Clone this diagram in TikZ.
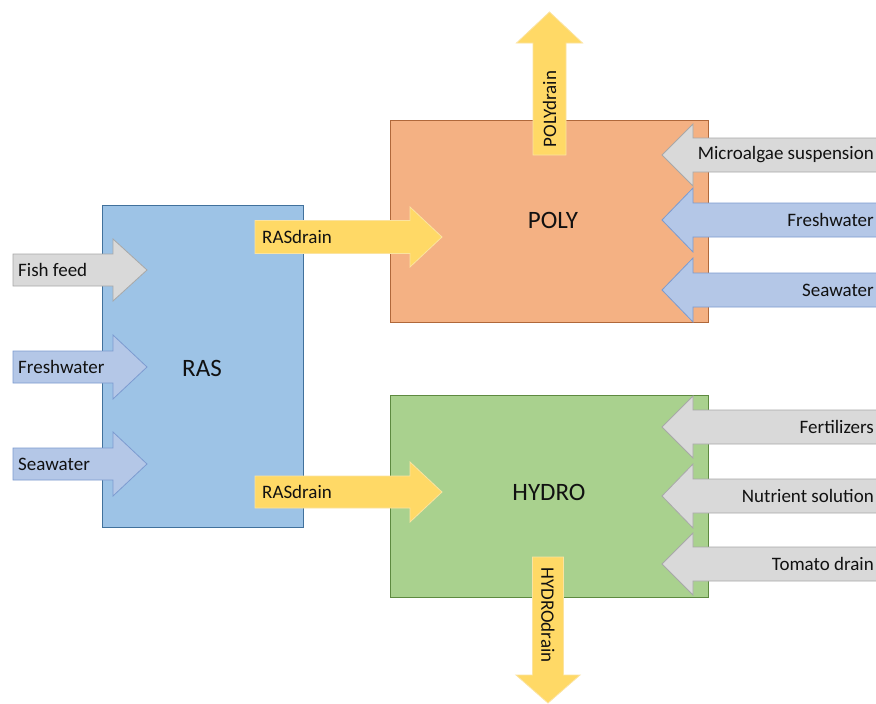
\documentclass[tikz,border=0pt]{standalone}
\usepackage{fontspec}
\setmainfont{Carlito}
\begin{document}
\begin{tikzpicture}[x=1pt,y=-1pt,
  unitbox/.style={line width=0.9pt},
  rasbox/.style={unitbox,fill=rasfill,draw=rasline},
  polybox/.style={unitbox,fill=polyfill,draw=polyline},
  hydrobox/.style={unitbox,fill=hydrofill,draw=hydroline},
  flowarrow/.style={line width=0.8pt,line join=miter},
  drainarrow/.style={flowarrow,fill=drainfill,draw=drainline},
  greyarrow/.style={flowarrow,fill=greyfill,draw=greyline},
  waterarrow/.style={flowarrow,fill=waterfill,draw=waterline},
  lbl/.style={font=\fontsize{19}{21}\selectfont,text=txt,inner sep=0pt},
  unitlbl/.style={font=\fontsize{25}{27}\selectfont,text=txt,inner sep=0pt}]
\definecolor{rasfill}{HTML}{9DC3E6}
\definecolor{rasline}{HTML}{41719C}
\definecolor{polyfill}{HTML}{F4B183}
\definecolor{polyline}{HTML}{B0683A}
\definecolor{hydrofill}{HTML}{A9D18E}
\definecolor{hydroline}{HTML}{5E8A40}
\definecolor{drainfill}{HTML}{FFD966}
\definecolor{drainline}{HTML}{FBE3A0}
\definecolor{greyfill}{HTML}{D9D9D9}
\definecolor{greyline}{HTML}{A8A8A8}
\definecolor{waterfill}{HTML}{B4C7E7}
\definecolor{waterline}{HTML}{7C9BD0}
\definecolor{txt}{HTML}{111111}
\useasboundingbox (0,0) rectangle (876,704);
\clip (0,0) rectangle (876,704);
\fill[white] (0,0) rectangle (876,704);

% horizontal block arrow: tail x, head base x, tip x, centre y, shaft half, head half
\newcommand\blockarrowh[7]{%
  \draw[#1] ({#2},{#5-#6}) -- ({#3},{#5-#6}) -- ({#3},{#5-#7}) -- ({#4},{#5})
    -- ({#3},{#5+#7}) -- ({#3},{#5+#6}) -- ({#2},{#5+#6}) -- cycle;}
% vertical block arrow: tail y, head base y, tip y, centre x, shaft half, head half
\newcommand\blockarrowv[7]{%
  \draw[#1] ({#5-#6},{#2}) -- ({#5-#6},{#3}) -- ({#5-#7},{#3}) -- ({#5},{#4})
    -- ({#5+#7},{#3}) -- ({#5+#6},{#3}) -- ({#5+#6},{#2}) -- cycle;}

% process units
\draw[rasbox] (102,205) rectangle (303,527);
\draw[polybox] (390,120) rectangle (708,322);
\draw[hydrobox] (390,395) rectangle (708,597);
\node[unitlbl] (ras) at (202,368) {RAS};
\node[unitlbl] (poly) at (553,220) {POLY};
\node[unitlbl] (hydro) at (549,492) {HYDRO};

% RAS inputs
\blockarrowh{greyarrow}{13}{113}{147}{270}{16}{31}
\blockarrowh{waterarrow}{13}{113}{147}{367}{16}{32}
\blockarrowh{waterarrow}{13}{113}{147}{464}{16}{32}
\node[lbl,anchor=west] (feed) at (18,270) {Fish feed};
\node[lbl,anchor=west] (rasfresh) at (18,367) {Freshwater};
\node[lbl,anchor=west] (rassea) at (18,464) {Seawater};

% RAS drains into POLY and HYDRO
\blockarrowh{drainarrow}{255}{410}{442}{237}{16.5}{30}
\blockarrowh{drainarrow}{255}{410}{442}{492}{16}{30}
\node[lbl,anchor=west] (drainpoly) at (262,237) {RASdrain};
\node[lbl,anchor=west] (drainhydro) at (262,492) {RASdrain};

% POLY inputs
\blockarrowh{greyarrow}{900}{693}{662}{155}{17}{31}
\blockarrowh{waterarrow}{900}{693}{662}{220}{17}{32}
\blockarrowh{waterarrow}{900}{693}{662}{290}{17}{32}
\node[lbl,anchor=east] (algae) at (874,155) {Microalgae suspension};
\node[lbl,anchor=east] (polyfresh) at (874,220) {Freshwater};
\node[lbl,anchor=east] (polysea) at (874,290) {Seawater};

% HYDRO inputs
\blockarrowh{greyarrow}{900}{693}{662}{427}{17}{31}
\blockarrowh{greyarrow}{900}{693}{662}{496}{17}{32}
\blockarrowh{greyarrow}{900}{693}{662}{564}{17}{31}
\node[lbl,anchor=east] (fert) at (874,427) {Fertilizers};
\node[lbl,anchor=east] (nutri) at (874,496) {Nutrient solution};
\node[lbl,anchor=east] (tomato) at (874,564) {Tomato drain};

% outlet drains
\blockarrowv{drainarrow}{155}{43}{12}{549.5}{16.5}{33}
\blockarrowv{drainarrow}{557}{675}{703}{548}{15.5}{32}
\node[lbl,rotate=90] (polydrain) at (549.5,109) {POLYdrain};
\node[lbl,rotate=-90] (hydrodrain) at (548,615) {HYDROdrain};
\end{tikzpicture}
\end{document}
